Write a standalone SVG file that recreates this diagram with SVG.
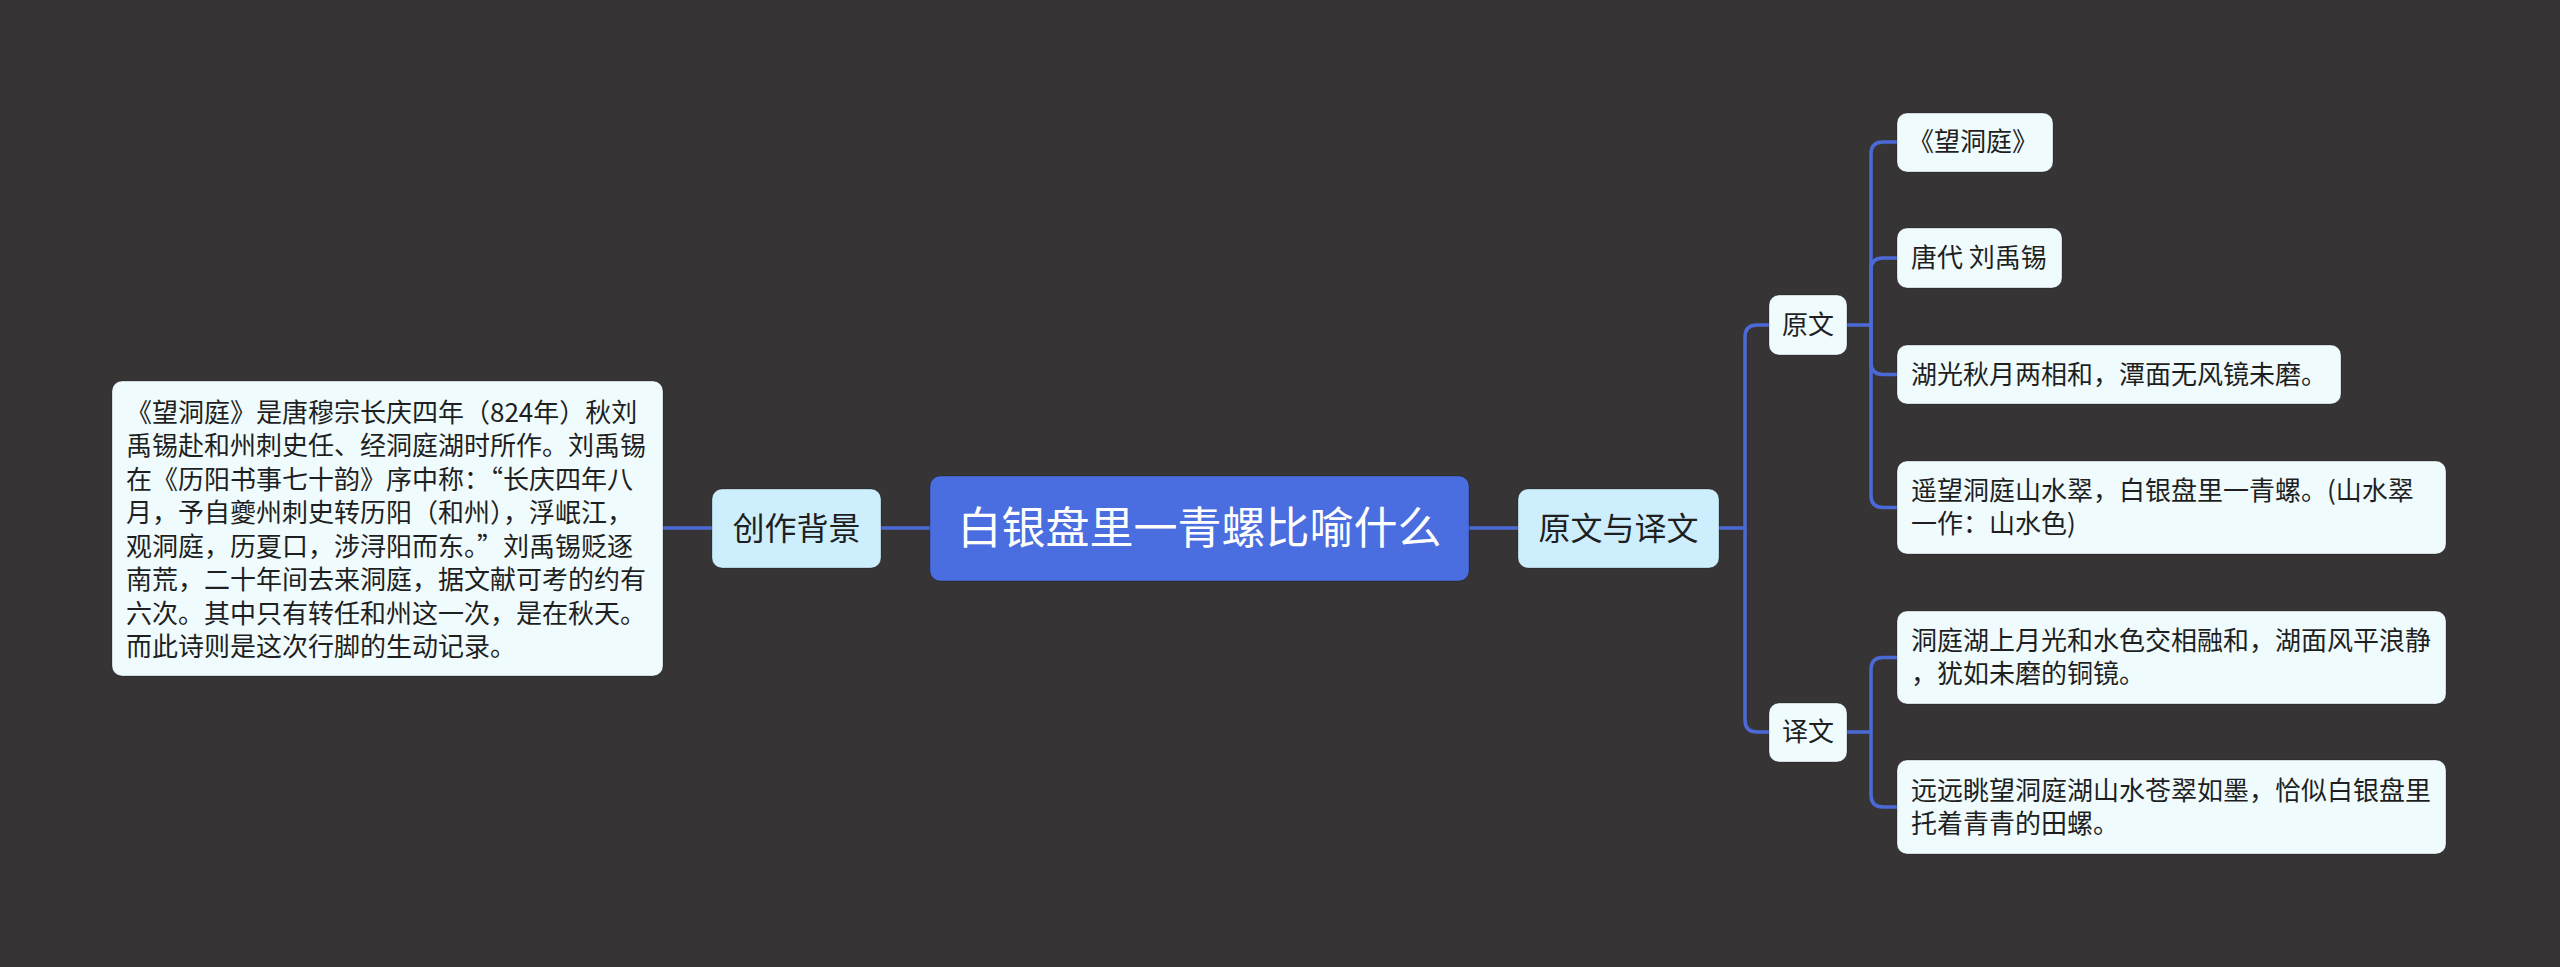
<svg xmlns="http://www.w3.org/2000/svg" width="2560" height="967" viewBox="0 0 2560 967">
<style>
.bg{fill:#363435}
.root{fill:#4a6ddf}
.l1{fill:#cdeefc}
.leaf{fill:#effbfc}
.box{stroke:rgba(0,0,0,0.25);stroke-width:1}
.t{font-family:"Noto Sans CJK SC","Noto Sans",sans-serif;fill:#1f1f1f}
.tr{font-family:"Noto Sans CJK SC","Noto Sans",sans-serif;fill:#ffffff;font-size:44px}
.t1{font-size:32px}
.t2{font-size:26px}
.c{fill:none;stroke:#4b6ad8;stroke-width:3.5;stroke-linejoin:round}
</style>
<rect class="bg" x="0" y="0" width="2560" height="967"/>
<g id="connectors">
<path class="c" d="M663,528 H712"/>
<path class="c" d="M881,528 H930"/>
<path class="c" d="M1469,528 H1518"/>
<path class="c" d="M1719,528 H1745 V337 Q1745,325 1757,325 H1769"/>
<path class="c" d="M1745,528 V720 Q1745,732 1757,732 H1769"/>
<path class="c" d="M1847,325 H1871"/>
<path class="c" d="M1871,325 V154 Q1871,142 1883,142 H1897"/>
<path class="c" d="M1871,325 V270 Q1871,258 1883,258 H1897"/>
<path class="c" d="M1871,325 V362.5 Q1871,374.5 1883,374.5 H1897"/>
<path class="c" d="M1871,325 V495.5 Q1871,507.5 1883,507.5 H1897"/>
<path class="c" d="M1847,732 H1871"/>
<path class="c" d="M1871,732 V669.5 Q1871,657.5 1883,657.5 H1897"/>
<path class="c" d="M1871,732 V795 Q1871,807 1883,807 H1897"/>
</g>
<g id="root">
<rect class="root box" x="930" y="476" width="539" height="105" rx="10"/>
<text class="tr" x="1199.5" y="544" text-anchor="middle">白银盘里一青螺比喻什么</text>
</g>
<g id="bg-node">
<rect class="l1 box" x="712" y="489" width="169" height="79" rx="10"/>
<text class="t t1" x="796.5" y="540" text-anchor="middle">创作背景</text>
</g>
<g id="bg-text">
<rect class="leaf box" x="112" y="381" width="551" height="295" rx="10"/>
<text class="t t2" x="126">
<tspan x="126" y="421.5">《望洞庭》是唐穆宗长庆四年（824年）秋刘</tspan>
<tspan x="126" y="455">禹锡赴和州刺史任、经洞庭湖时所作。刘禹锡</tspan>
<tspan x="126" y="488.5">在《历阳书事七十韵》序中称：“长庆四年八</tspan>
<tspan x="126" y="522">月，予自夔州刺史转历阳（和州），浮岷江，</tspan>
<tspan x="126" y="555.5">观洞庭，历夏口，涉浔阳而东。”刘禹锡贬逐</tspan>
<tspan x="126" y="589">南荒，二十年间去来洞庭，据文献可考的约有</tspan>
<tspan x="126" y="622.5">六次。其中只有转任和州这一次，是在秋天。</tspan>
<tspan x="126" y="656">而此诗则是这次行脚的生动记录。</tspan>
</text>
</g>
<g id="yuanwen-yiwen">
<rect class="l1 box" x="1518" y="489" width="201" height="79" rx="10"/>
<text class="t t1" x="1618.5" y="540" text-anchor="middle">原文与译文</text>
</g>
<g id="yuanwen">
<rect class="leaf box" x="1769" y="295" width="78" height="60" rx="10"/>
<text class="t t2" x="1808" y="334" text-anchor="middle">原文</text>
</g>
<g id="yiwen">
<rect class="leaf box" x="1769" y="703" width="78" height="59" rx="10"/>
<text class="t t2" x="1808" y="741" text-anchor="middle">译文</text>
</g>
<g id="leaf-title">
<rect class="leaf box" x="1897" y="113" width="156" height="59" rx="10"/>
<text class="t t2" x="1908" y="151">《望洞庭》</text>
</g>
<g id="leaf-author">
<rect class="leaf box" x="1897" y="228" width="165" height="60" rx="10"/>
<text class="t t2" x="1911" y="267">唐代 刘禹锡</text>
</g>
<g id="leaf-line1">
<rect class="leaf box" x="1897" y="345" width="444" height="59" rx="10"/>
<text class="t t2" x="1911" y="383.5">湖光秋月两相和，潭面无风镜未磨。</text>
</g>
<g id="leaf-line2">
<rect class="leaf box" x="1897" y="461" width="549" height="93" rx="10"/>
<text class="t t2"><tspan x="1911" y="500">遥望洞庭山水翠，白银盘里一青螺。(山水翠</tspan><tspan x="1911" y="533">一作：山水色)</tspan></text>
</g>
<g id="leaf-trans1">
<rect class="leaf box" x="1897" y="611" width="549" height="93" rx="10"/>
<text class="t t2"><tspan x="1911" y="650">洞庭湖上月光和水色交相融和，湖面风平浪静</tspan><tspan x="1911" y="683">，犹如未磨的铜镜。</tspan></text>
</g>
<g id="leaf-trans2">
<rect class="leaf box" x="1897" y="760" width="549" height="94" rx="10"/>
<text class="t t2"><tspan x="1911" y="799.5">远远眺望洞庭湖山水苍翠如墨，恰似白银盘里</tspan><tspan x="1911" y="832.5">托着青青的田螺。</tspan></text>
</g>
</svg>
